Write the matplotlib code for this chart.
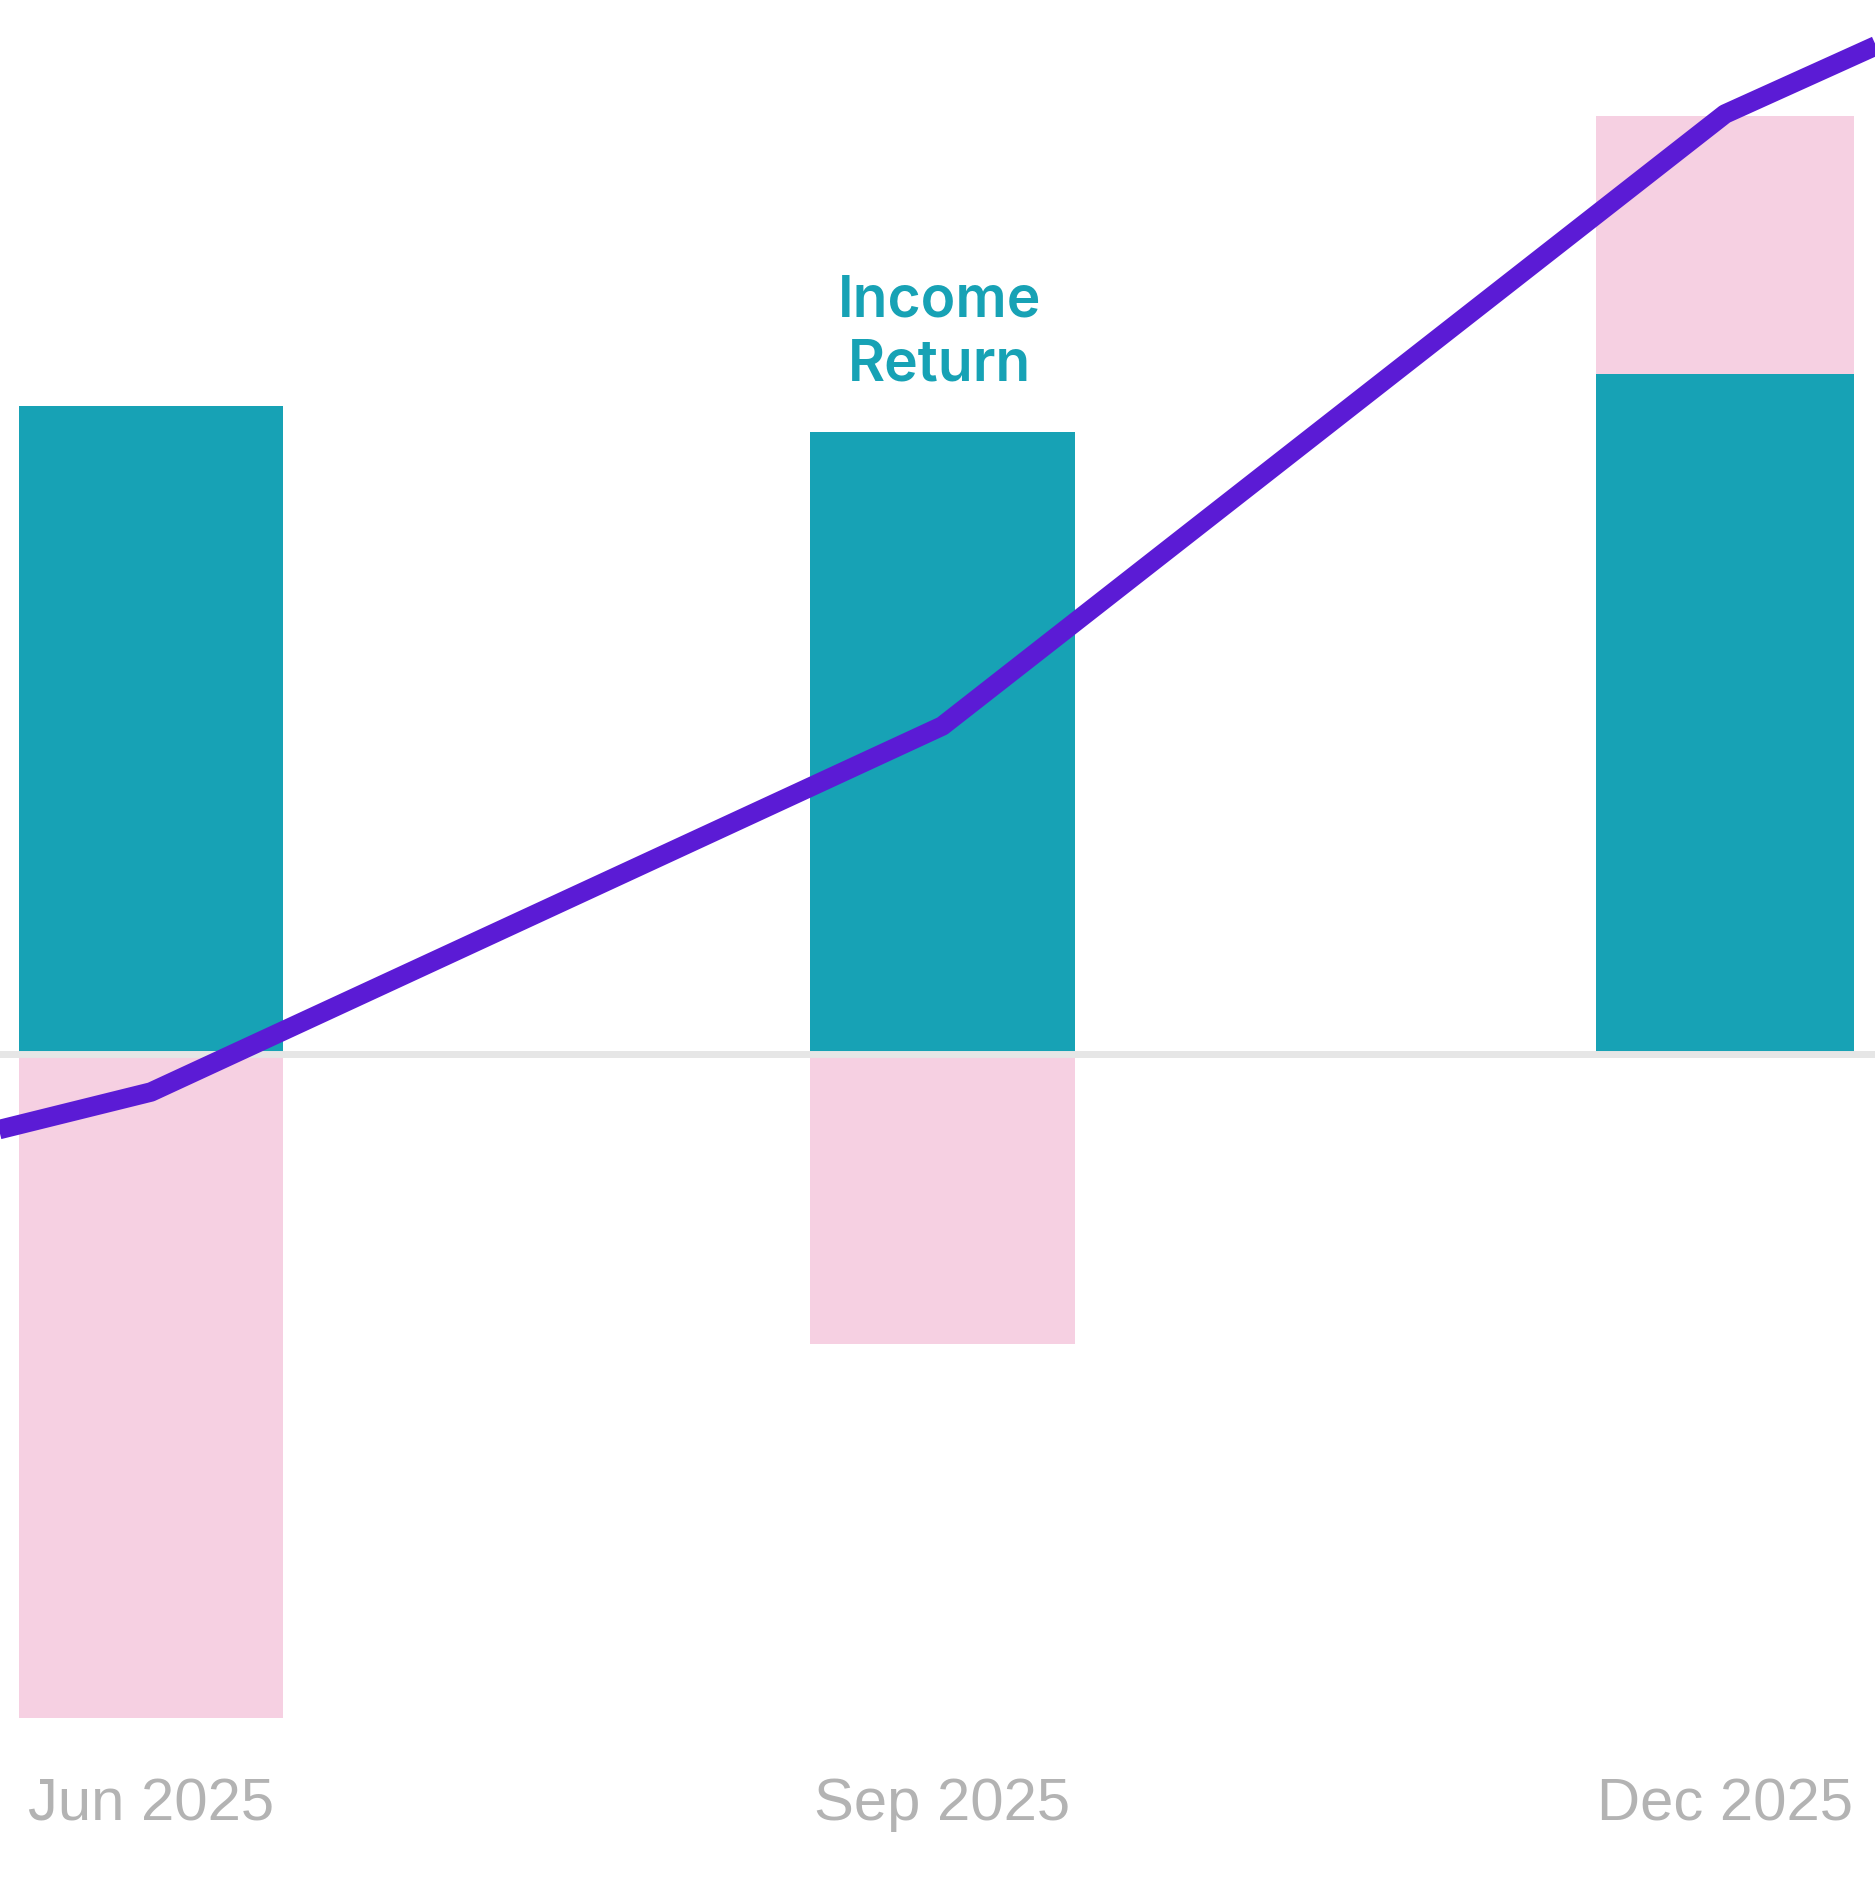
import numpy as np
import matplotlib.pyplot as plt
import matplotlib.dates as mdates
from datetime import date

# quarterly values in %
quarters = [date(2025, 6, 1), date(2025, 9, 1), date(2025, 12, 1)]
quarter_labels = ['Jun 2025', 'Sep 2025', 'Dec 2025']
income_return = [3.24, 3.11, 3.40]
growth_return = [-3.32, -1.45, 1.29]

# total return line runs one quarter past each edge (clipped by the axes)
line_dates = [date(2025, 3, 1), date(2025, 6, 1), date(2025, 9, 1),
              date(2025, 12, 1), date(2026, 3, 1)]
total_return = [-1.17, -0.19, 1.64, 4.70, 6.45]

teal = '#17a2b5'
pink = '#f6d0e2'
purple = '#5b1bd5'

fig = plt.figure(figsize=(18.75, 18.77), dpi=100)
ax = fig.add_axes([0, 0.073, 1, 0.927])

x = mdates.date2num(quarters)
width = np.array([30.8, 30.8, 30.1])  # days

income = np.array(income_return)
growth = np.array(growth_return)
# growth stacks on top of income when positive, hangs below zero when negative
growth_bottom = np.where(growth > 0, income, 0)

ax.bar(x, income, width, color=teal, zorder=2)
ax.bar(x, growth, width, bottom=growth_bottom, color=pink, zorder=2)
ax.axhline(0, color='#e6e6e6', lw=5, zorder=3)
ax.plot(mdates.date2num(line_dates), total_return, color=purple, lw=14,
        solid_joinstyle='round', solid_capstyle='butt', zorder=4)

ax.text(x[1] - 0.3, 3.365, 'Income\nReturn', ha='center', va='baseline',
        color=teal, fontsize=41, fontweight='semibold',
        family=['Inter', 'DejaVu Sans'], linespacing=1.25, zorder=5)

ax.set_xlim(x[0] - 17.56, x[2] + 17.44)
ax.set_ylim(-3.43, 5.27)
ax.set_xticks(x)
ax.set_xticklabels(quarter_labels, fontsize=43, color='#b3b3b3',
                   family=['Liberation Sans', 'DejaVu Sans'])
ax.tick_params(axis='x', length=0, pad=27)
ax.set_yticks([])
for s in ax.spines.values():
    s.set_visible(False)

fig.savefig('out.png', dpi=100)
